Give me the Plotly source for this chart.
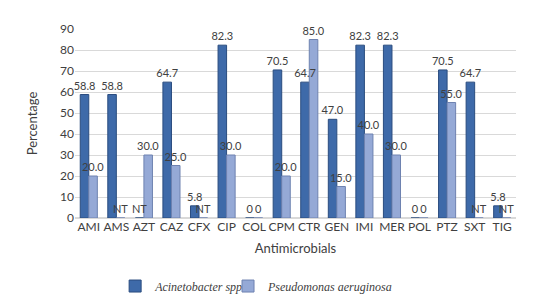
import plotly.graph_objects as go

categories = ["AMI", "AMS", "AZT", "CAZ", "CFX", "CIP", "COL", "CPM", "CTR",
              "GEN", "IMI", "MER", "POL", "PTZ", "SXT", "TIG"]
acinetobacter = [58.8, 58.8, 0, 64.7, 5.8, 82.3, 0, 70.5, 64.7,
                 47.0, 82.3, 82.3, 0, 70.5, 64.7, 5.8]
acinetobacter_labels = ["58.8", "58.8", "NT", "64.7", "5.8", "82.3", "0", "70.5", "64.7",
                        "47.0", "82.3", "82.3", "0", "70.5", "64.7", "5.8"]
pseudomonas = [20.0, 0, 30.0, 25.0, 0, 30.0, 0, 20.0, 85.0,
               15.0, 40.0, 30.0, 0, 55.0, 0, 0]
pseudomonas_labels = ["20.0", "NT", "30.0", "25.0", "NT", "30.0", "0", "20.0", "85.0",
                      "15.0", "40.0", "30.0", "0", "55.0", "NT", "NT"]
y_ticks = [0, 10, 20, 30, 40, 50, 60, 70, 80, 90]

fig = go.Figure()
fig.add_trace(go.Bar(
    x=categories, y=acinetobacter, name="<i>Acinetobacter spp</i>",
    offsetgroup="a", legend="legend",
    marker=dict(color="#3E6AA9", line=dict(color="#2A4C7F", width=1)),
))
fig.add_trace(go.Bar(
    x=categories, y=pseudomonas, name="<i>Pseudomonas aeruginosa</i>",
    offsetgroup="b", legend="legend2",
    marker=dict(color="#95A9D6", line=dict(color="#6E82B0", width=1)),
))
# label layers drawn on top of all bars
for vals, labels, grp in [(acinetobacter, acinetobacter_labels, "a"),
                          (pseudomonas, pseudomonas_labels, "b")]:
    fig.add_trace(go.Bar(
        x=categories, y=vals, offsetgroup=grp, showlegend=False,
        text=labels, textposition="outside", cliponaxis=False,
        constraintext="none", hoverinfo="skip",
        textfont=dict(size=11, color="#404040"),
        marker=dict(color="rgba(0,0,0,0)", line=dict(width=0)),
    ))

legend_style = dict(
    orientation="h", y=-0.36, yanchor="middle", xanchor="left",
    font=dict(family="'Liberation Serif', serif", size=12, color="#404040"),
    itemwidth=30, bgcolor="rgba(0,0,0,0)",
)

fig.update_layout(
    width=534, height=298,
    margin=dict(l=67, r=26, t=21, b=88, autoexpand=False),
    paper_bgcolor="white", plot_bgcolor="white",
    font=dict(family="Lato, 'Open Sans', sans-serif", size=12, color="#404040"),
    barmode="group", bargap=0.38, bargroupgap=0.0,
    xaxis=dict(
        title=dict(text="Antimicrobials", font=dict(size=13, color="#404040"), standoff=10),
        tickfont=dict(size=12, color="#404040"),
        showline=False, ticks="", automargin=False,
    ),
    yaxis=dict(
        title=dict(text="Percentage", font=dict(size=13, color="#404040"), standoff=19),
        range=[0, 90], tickvals=y_ticks, tickfont=dict(size=12, color="#404040"),
        showgrid=True, gridcolor="#D9D9D9", gridwidth=1,
        zeroline=True, zerolinecolor="#D9D9D9", ticks="", automargin=False,
    ),
    legend=dict(x=0.091, **legend_style),
    legend2=dict(x=0.347, **legend_style),
    showlegend=True,
)

fig.write_html("out.html")
